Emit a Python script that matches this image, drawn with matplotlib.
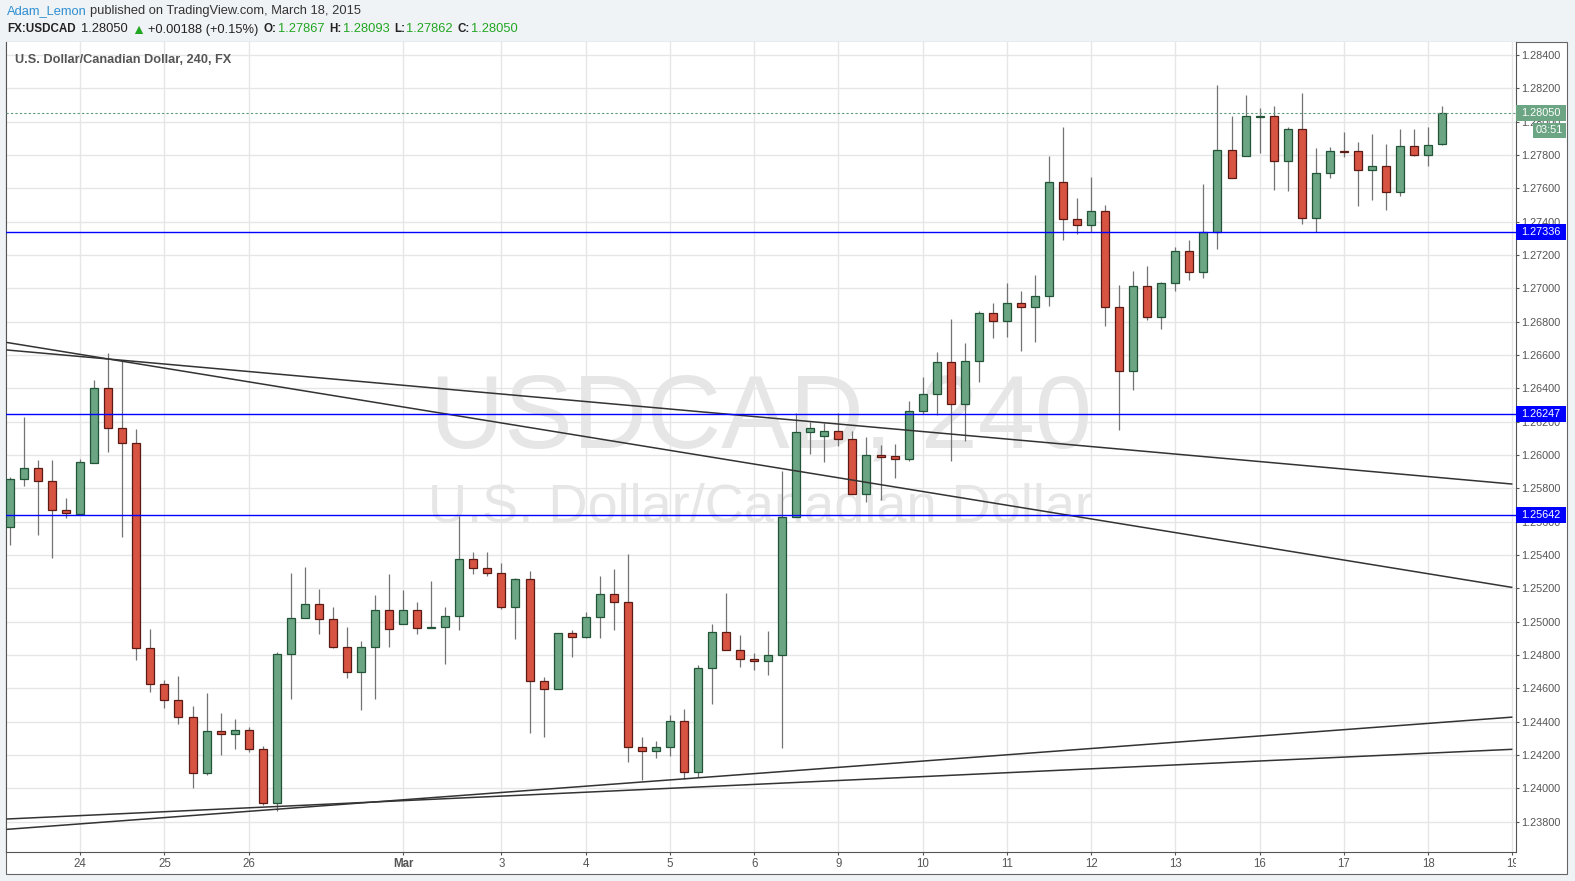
import numpy as np
import matplotlib.pyplot as plt
from matplotlib.patches import Rectangle
from matplotlib.transforms import Bbox

plt.rcParams['font.family'] = ['Liberation Sans', 'DejaVu Sans']

W, H = 1575, 881

# 4h candles, USDCAD, Feb 23 - Mar 18 2015
opens = [1.25566, 1.25854, 1.25920, 1.25842, 1.25668, 1.25648, 1.25954, 1.26400, 1.26160, 1.26070,
         1.24840, 1.24624, 1.24528, 1.24426, 1.24090, 1.24342, 1.24324, 1.24348, 1.24234, 1.23910,
         1.24804, 1.25020, 1.25104, 1.25014, 1.24846, 1.24700, 1.24846, 1.25068, 1.24984, 1.25068,
         1.24960, 1.24966, 1.25032, 1.25374, 1.25320, 1.25290, 1.25086, 1.25254, 1.24642, 1.24594,
         1.24930, 1.24906, 1.25026, 1.25164, 1.25116, 1.24250, 1.24226, 1.24250, 1.24402, 1.24096,
         1.24720, 1.24936, 1.24828, 1.24774, 1.24762, 1.24798, 1.25626, 1.26136, 1.26112, 1.26142,
         1.26094, 1.25764, 1.25998, 1.25992, 1.25974, 1.26262, 1.26364, 1.26556, 1.26304, 1.26562,
         1.26850, 1.26802, 1.26910, 1.26890, 1.26952, 1.27636, 1.27414, 1.27378, 1.27462, 1.26886,
         1.26502, 1.27012, 1.26826, 1.27030, 1.27222, 1.27096, 1.27336, 1.27828, 1.27792, 1.28030,
         1.28032, 1.27762, 1.27954, 1.27420, 1.27690, 1.27824, 1.27822, 1.27708, 1.27732, 1.27576,
         1.27852, 1.27802, 1.27867]
highs = [1.25870, 1.26226, 1.25970, 1.25970, 1.25742, 1.25976, 1.26450, 1.26612, 1.26566, 1.26156,
         1.24956, 1.24650, 1.24674, 1.24494, 1.24574, 1.24452, 1.24416, 1.24366, 1.24254, 1.24816,
         1.25292, 1.25328, 1.25196, 1.25088, 1.24968, 1.24884, 1.25160, 1.25286, 1.25190, 1.25118,
         1.25244, 1.25088, 1.25634, 1.25416, 1.25416, 1.25352, 1.25260, 1.25304, 1.24668, 1.24930,
         1.24950, 1.25056, 1.25276, 1.25316, 1.25404, 1.24306, 1.24284, 1.24440, 1.24476, 1.24738,
         1.24986, 1.25172, 1.24920, 1.24810, 1.24944, 1.25904, 1.26250, 1.26196, 1.26190, 1.26250,
         1.26142, 1.26106, 1.26058, 1.26064, 1.26322, 1.26466, 1.26616, 1.26814, 1.26670, 1.26862,
         1.26910, 1.27032, 1.26984, 1.27080, 1.27794, 1.27966, 1.27540, 1.27668, 1.27498, 1.27020,
         1.27104, 1.27134, 1.27040, 1.27248, 1.27290, 1.27626, 1.28220, 1.28034, 1.28160, 1.28080,
         1.28094, 1.27968, 1.28172, 1.27842, 1.27848, 1.27938, 1.27878, 1.27926, 1.27866, 1.27956,
         1.27956, 1.27968, 1.28093]
lows = [1.25462, 1.25816, 1.25522, 1.25384, 1.25624, 1.25640, 1.25950, 1.26020, 1.25510, 1.24770,
        1.24580, 1.24484, 1.24384, 1.24004, 1.24078, 1.24202, 1.24238, 1.24220, 1.23900, 1.23864,
        1.24538, 1.25020, 1.24928, 1.24840, 1.24664, 1.24472, 1.24538, 1.24846, 1.24984, 1.24928,
        1.24960, 1.24748, 1.24952, 1.25284, 1.25276, 1.25074, 1.24894, 1.24334, 1.24310, 1.24594,
        1.24786, 1.24900, 1.24904, 1.24952, 1.24160, 1.24050, 1.24184, 1.24194, 1.24054, 1.24066,
        1.24508, 1.24828, 1.24730, 1.24712, 1.24682, 1.24240, 1.25626, 1.26008, 1.25960, 1.26056,
        1.25764, 1.25720, 1.25728, 1.25860, 1.25962, 1.26244, 1.26238, 1.25966, 1.26086, 1.26436,
        1.26700, 1.26706, 1.26626, 1.26680, 1.26896, 1.27292, 1.27328, 1.27336, 1.26776, 1.26152,
        1.26392, 1.26812, 1.26758, 1.26986, 1.27052, 1.27064, 1.27238, 1.27660, 1.27792, 1.27814,
        1.27592, 1.27586, 1.27388, 1.27336, 1.27664, 1.27790, 1.27496, 1.27532, 1.27472, 1.27556,
        1.27794, 1.27736, 1.27862]
closes = [1.25854, 1.25920, 1.25842, 1.25668, 1.25650, 1.25956, 1.26400, 1.26160, 1.26070, 1.24840,
          1.24624, 1.24528, 1.24426, 1.24090, 1.24342, 1.24324, 1.24348, 1.24234, 1.23910, 1.24804,
          1.25020, 1.25104, 1.25014, 1.24846, 1.24700, 1.24846, 1.25068, 1.24954, 1.25068, 1.24960,
          1.24966, 1.25032, 1.25374, 1.25320, 1.25290, 1.25086, 1.25254, 1.24642, 1.24594, 1.24930,
          1.24906, 1.25026, 1.25164, 1.25116, 1.24250, 1.24226, 1.24250, 1.24402, 1.24096, 1.24720,
          1.24936, 1.24828, 1.24774, 1.24762, 1.24798, 1.25626, 1.26136, 1.26160, 1.26142, 1.26094,
          1.25764, 1.25998, 1.25990, 1.25974, 1.26262, 1.26364, 1.26556, 1.26304, 1.26562, 1.26850,
          1.26802, 1.26910, 1.26890, 1.26952, 1.27636, 1.27414, 1.27378, 1.27462, 1.26886, 1.26502,
          1.27012, 1.26826, 1.27030, 1.27222, 1.27096, 1.27336, 1.27828, 1.27660, 1.28032, 1.28034,
          1.27762, 1.27954, 1.27420, 1.27690, 1.27822, 1.27820, 1.27708, 1.27732, 1.27576, 1.27852,
          1.27802, 1.27858, 1.28050]

day_pos = [5, 11, 17, 28, 35, 41, 47, 53, 59, 65, 71, 77, 83, 89, 95, 101, 107]
day_lbl = ['24', '25', '26', 'Mar', '3', '4', '5', '6', '9', '10', '11', '12', '13', '16', '17', '18', '19']
price_ticks = np.arange(1.238, 1.2841, 0.002)

levels = [1.27336, 1.26247, 1.25642]
last_price = 1.28050

# trend lines: (x0, x1) in bar index, (y0, y1) in price
trend_x = [-0.21, 106.95]
trend_a = [1.26675, 1.25206]
trend_b = [1.26630, 1.25826]
trend_c = [1.23754, 1.24427]
trend_d = [1.23816, 1.24234]

UP, DN = '#6BA583', '#D75442'
UP_E, DN_E = '#225437', '#5B1A13'
AX_FS = 7.8

fig = plt.figure(figsize=(W / 100, H / 100), dpi=100, facecolor='#F0F3F6')
panel = Rectangle((6 / W, 1 - 874 / H), (1567 - 6) / W, (874 - 42) / H, transform=fig.transFigure,
                  facecolor='white', edgecolor='#666666', lw=0.8, zorder=-1)
fig.patches.append(panel)

ax = fig.add_axes([6 / W, 1 - 852 / H, 1510 / W, 810 / H])
ax.set_facecolor('white')
ax.set_xlim(-0.285, 107.26)
ax.set_ylim(1.23618, 1.28478)
ax.set_axisbelow(True)
ax.grid(True, color='#E6E6E6', lw=1)

# watermark
ax.text(761 / W, 1 - 421 / H, 'USDCAD, 240', transform=fig.transFigure, ha='center', va='center',
        fontsize=74, color='#E6E6E6', zorder=1)
ax.text(761 / W, 1 - 508 / H, 'U.S. Dollar/Canadian Dollar', transform=fig.transFigure, ha='center',
        va='center', fontsize=39, color='#E6E6E6', zorder=1)

o = np.array(opens)
h = np.array(highs)
l = np.array(lows)
c = np.array(closes)
idx = np.arange(len(o))
up = c >= o
ax.vlines(idx, l, h, color='#737375', lw=0.9, zorder=2)
ax.bar(idx, np.abs(c - o), bottom=np.minimum(o, c), width=0.57,
       color=np.where(up, UP, DN), edgecolor=np.where(up, UP_E, DN_E), linewidth=0.9, zorder=3)

for ys in (trend_a, trend_b, trend_c, trend_d):
    ax.plot(trend_x, ys, color='#333333', lw=1.1, zorder=4)
for lv in levels:
    ax.axhline(lv, color='#0000FF', lw=1, zorder=4)
ax.axhline(last_price, color='#5A9A78', lw=0.8, ls=(0, (2, 2)), zorder=4)

# axes styling
ax.set_xticks(day_pos)
ax.set_xticklabels(day_lbl)
ax.get_xticklabels()[3].set_fontweight('bold')
ax.yaxis.tick_right()
ax.set_yticks(price_ticks)
ax.set_yticklabels(['%.5f' % p for p in price_ticks])
ax.tick_params(axis='both', colors='#555555', labelsize=AX_FS, length=2, width=0.8, pad=2)
ax.tick_params(axis='x', pad=2, labelsize=8.3)
ax.spines['top'].set_visible(False)
for s in ('left', 'bottom', 'right'):
    ax.spines[s].set_color('#555555')
clip = Bbox.from_extents(0, 0, 1516, H)
for lbl in ax.get_xticklabels():
    lbl.set_clip_box(clip)
    lbl.set_clip_on(True)


# price labels on the axis: coloured box from the axis line
def axis_box(price, text, color, x0=1516, x1=1566, dy=0, hgt=16):
    yd = ax.transData.transform((0, price))[1] - dy
    fig.patches.append(Rectangle((x0 / W, (yd - hgt / 2) / H), (x1 - x0) / W, hgt / H,
                                 transform=fig.transFigure, fc=color, ec='none', zorder=5))
    fig.text((x0 + x1) / 2 / W, yd / H, text, ha='center', va='center', fontsize=AX_FS,
             color='white', zorder=6)


for lv in levels:
    axis_box(lv, '%.5f' % lv, '#0000FF')
axis_box(last_price, '%.5f' % last_price, UP)
axis_box(last_price, '03:51', UP, x0=1533, x1=1566, dy=17, hgt=15)

ax.text(15 / W, 1 - 60 / H, 'U.S. Dollar/Canadian Dollar, 240, FX', transform=fig.transFigure,
        ha='left', va='center', fontsize=9.2, fontweight='bold', color='#555555', zorder=10)


def seq(parts, x, y):
    r = fig.canvas.get_renderer()
    for s, col, wt, size, gap in parts:
        t = fig.text(x / W, 1 - y / H, s, color=col, fontweight=wt, fontsize=size, va='center', ha='left')
        x += t.get_window_extent(r).width + gap


G = '#22A622'
K = '#222222'
R, B = 9.3, 8.4
seq([('Adam_Lemon', '#2E8FD0', 'normal', R, 3.5),
     ('published on TradingView.com, March 18, 2015', '#333333', 'normal', R, 0)], 7, 11)
seq([('FX:USDCAD', K, 'bold', B, 5), ('1.28050', K, 'normal', R, 4), ('\u25b2', G, 'normal', R + 1, 3),
     ('+0.00188 (+0.15%)', K, 'normal', R, 5), ('O:', K, 'bold', B, 1), ('1.27867', G, 'normal', R, 5),
     ('H:', K, 'bold', B, 1), ('1.28093', G, 'normal', R, 5), ('L:', K, 'bold', B, 1),
     ('1.27862', G, 'normal', R, 5), ('C:', K, 'bold', B, 1), ('1.28050', G, 'normal', R, 0)], 7, 29.5)

fig.savefig('out.png', dpi=100, facecolor=fig.get_facecolor())
